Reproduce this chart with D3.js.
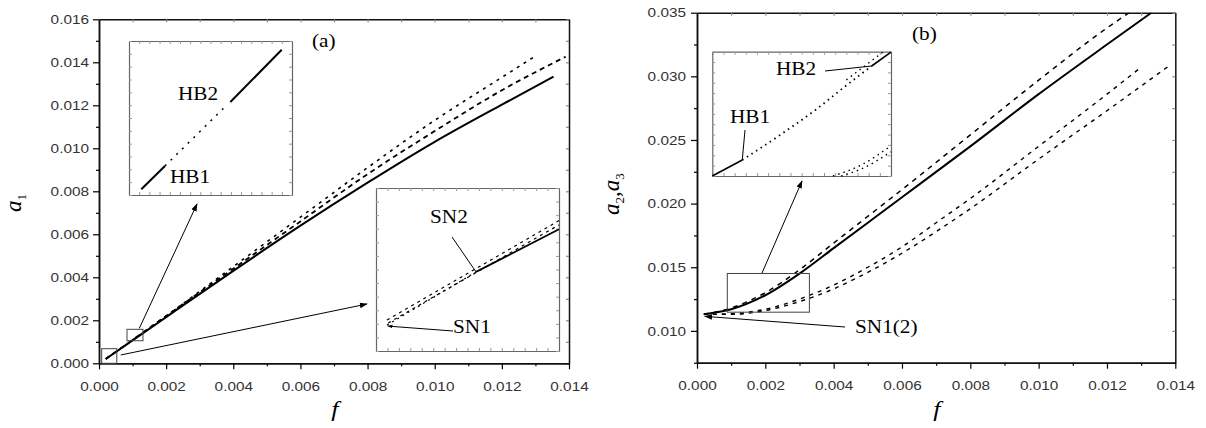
<!DOCTYPE html>
<html>
<head>
<meta charset="utf-8">
<script src="https://cdn.jsdelivr.net/npm/d3@7"></script>
<style>
  body { margin: 0; background: #fff; }
  svg { display: block; }
  .tick text { font-family: "Liberation Sans", Arial, sans-serif; font-size: 13px; fill: #333; }
</style>
</head>
<body>
<div class="graphContainer"></div>
<script>
// ---- panel (a): a1 vs f ----
var a1Stable = [[0.0002, 0.0002], [0.002, 0.00215], [0.004, 0.0043], [0.006, 0.0064], [0.008, 0.0084], [0.010, 0.0103], [0.012, 0.01203], [0.01354, 0.01333]];
var a1DashMid = [[0.0002, 0.0002], [0.002, 0.0022], [0.004, 0.0044], [0.006, 0.0066], [0.008, 0.0088], [0.010, 0.0108], [0.012, 0.0127], [0.0139, 0.01426]];
var a1DashTop = [[0.0002, 0.0002], [0.002, 0.0022], [0.004, 0.0045], [0.006, 0.0068], [0.008, 0.0091], [0.010, 0.0113], [0.012, 0.0133], [0.0130, 0.01429]];

// inset HB (zoom of a1 near f=0.001)
var hbLow = [[0.00087, 0.00107], [0.000939, 0.00115]];
var hbMid = [[0.000939, 0.00115], [0.00112, 0.00136]];
var hbHigh = [[0.00113, 0.00137], [0.00128, 0.00155]];

// inset SN (zoom of a1 near origin)
var snDashTop = [[0.000107, 0.000129], [0.00053, 0.000544]];
var snDashMid = [[0.00011, 0.000117], [0.00053, 0.000526]];
var snUnstable = [[0.000107, 0.000108], [0.000326, 0.00033]];
var snStable = [[0.000326, 0.00033], [0.00053, 0.000508]];

// ---- panel (b): a2, a3 vs f ----
var a2Stable = [[0.0002, 0.0113], [0.001, 0.0117], [0.002, 0.0128], [0.003, 0.0145], [0.004, 0.0165], [0.005, 0.0185], [0.006, 0.0205], [0.008, 0.0245], [0.010, 0.0286], [0.012, 0.0325], [0.0133, 0.035]];
var a2Dash = [[0.0002, 0.0113], [0.001, 0.0118], [0.002, 0.013], [0.003, 0.0148], [0.004, 0.0169], [0.005, 0.019], [0.006, 0.0211], [0.008, 0.0254], [0.010, 0.0297], [0.012, 0.0338], [0.01265, 0.035]];
var a3DashA = [[0.0002, 0.0113], [0.001, 0.01135], [0.002, 0.0117], [0.003, 0.0125], [0.004, 0.0136], [0.005, 0.015], [0.006, 0.0166], [0.007, 0.0185], [0.008, 0.0204], [0.010, 0.0245], [0.012, 0.0286], [0.01292, 0.03055]];
var a3DashB = [[0.0002, 0.0113], [0.001, 0.0113], [0.002, 0.0116], [0.003, 0.0123], [0.004, 0.0133], [0.005, 0.0146], [0.006, 0.0161], [0.007, 0.0178], [0.008, 0.0196], [0.010, 0.0235], [0.012, 0.0273], [0.01385, 0.03089]];

// inset of panel (b)
var ibLow = [[0.000887, 0.01147], [0.00129, 0.01186]];
var ibDotted = [[0.00129, 0.01186], [0.00182, 0.0125], [0.00227, 0.01308], [0.0027, 0.0137], [0.00303, 0.01416]];
var ibHigh = [[0.00303, 0.01416], [0.00329, 0.0145]];
var ibDotted2 = [[0.00269, 0.01382], [0.00319, 0.01451]];
var ibLowerA = [[0.00251, 0.01147], [0.0029, 0.01175], [0.00329, 0.01221]];
var ibLowerB = [[0.00262, 0.01147], [0.0029, 0.01165], [0.00329, 0.01206]];

var fTicks = d3.range(0, 0.01401, 0.002);
var fMinor = d3.range(0.001, 0.014, 0.002);
var a1Ticks = d3.range(0, 0.01601, 0.002);
var a1Minor = d3.range(0.001, 0.016, 0.002);
var a2Ticks = d3.range(0.010, 0.03501, 0.005);
var a2Minor = d3.range(0.0075, 0.035, 0.005);

var svg = d3.select(".graphContainer").append("svg").attr("width", 1206).attr("height", 428);

var defs = svg.append("defs");
defs.append("marker").attr("id", "arrow").attr("viewBox", "0 0 10 10").attr("refX", 9).attr("refY", 5)
  .attr("markerWidth", 8).attr("markerHeight", 8).attr("markerUnits", "userSpaceOnUse").attr("orient", "auto")
  .append("path").attr("d", "M0,1.5 L10,5 L0,8.5 Z").attr("fill", "#000");
defs.append("marker").attr("id", "arrowSmall").attr("viewBox", "0 0 10 10").attr("refX", 9).attr("refY", 5)
  .attr("markerWidth", 5).attr("markerHeight", 5).attr("markerUnits", "userSpaceOnUse").attr("orient", "auto")
  .append("path").attr("d", "M0,1.5 L10,5 L0,8.5 Z").attr("fill", "#000");

function drawFrame(x, y, major, minor, yMajor, yMinor, yFmt) {
  var g = svg.append("g");
  var all = major.concat(minor).sort(d3.ascending);
  var yAll = yMajor.concat(yMinor).sort(d3.ascending);
  // top and right: small inward ticks
  g.append("g").attr("transform", "translate(0," + y.range()[1] + ")")
    .call(d3.axisTop(x).tickValues(all).tickSize(-3).tickSizeOuter(0).tickFormat(""))
    .call(a => a.selectAll(".tick line").attr("stroke", "#888"));
  g.append("g").attr("transform", "translate(" + x.range()[1] + ",0)")
    .call(d3.axisRight(y).tickValues(yAll).tickSize(-3).tickSizeOuter(0).tickFormat(""))
    .call(a => a.selectAll(".tick line").attr("stroke", "#888"));
  // bottom
  g.append("g").attr("transform", "translate(0," + y.range()[0] + ")")
    .call(d3.axisBottom(x).tickValues(minor).tickSize(3).tickSizeOuter(0).tickFormat(""));
  g.append("g").attr("transform", "translate(0," + y.range()[0] + ")")
    .call(d3.axisBottom(x).tickValues(major).tickSize(6).tickSizeOuter(0).tickPadding(12).tickFormat(d3.format(".3f")));
  // left
  g.append("g").attr("transform", "translate(" + x.range()[0] + ",0)")
    .call(d3.axisLeft(y).tickValues(yMinor).tickSize(3).tickSizeOuter(0).tickFormat(""));
  g.append("g").attr("transform", "translate(" + x.range()[0] + ",0)")
    .call(d3.axisLeft(y).tickValues(yMajor).tickSize(6).tickSizeOuter(0).tickPadding(yFmt).tickFormat(d3.format(".3f")));
  g.selectAll(".domain").attr("stroke-width", 1.5).attr("stroke", "#111");
  g.selectAll(".tick line").attr("stroke-width", 1.2);
}

function drawLine(x, y, data, width, dash) {
  var line = d3.line().x(d => x(d[0])).y(d => y(d[1])).curve(d3.curveMonotoneX);
  svg.append("path").datum(data).attr("d", line).attr("fill", "none").attr("stroke", "#000")
    .attr("stroke-width", width).attr("stroke-dasharray", dash || null);
}

function drawInset(x, y) {
  var g = svg.append("g");
  var xt = d3.range(0, 17).map(i => x.domain()[0] + i * (x.domain()[1] - x.domain()[0]) / 16);
  var yt = d3.range(0, 13).map(i => y.domain()[0] + i * (y.domain()[1] - y.domain()[0]) / 12);
  g.append("g").attr("transform", "translate(0," + y.range()[0] + ")").call(d3.axisTop(x).tickValues(xt).tickSize(3).tickSizeOuter(0).tickFormat(""));
  g.append("g").attr("transform", "translate(0," + y.range()[1] + ")").call(d3.axisBottom(x).tickValues(xt).tickSize(3).tickSizeOuter(0).tickFormat(""));
  g.append("g").attr("transform", "translate(" + x.range()[0] + ",0)").call(d3.axisRight(y).tickValues(yt).tickSize(3).tickSizeOuter(0).tickFormat(""));
  g.append("g").attr("transform", "translate(" + x.range()[1] + ",0)").call(d3.axisLeft(y).tickValues(yt).tickSize(3).tickSizeOuter(0).tickFormat(""));
  g.selectAll(".domain").attr("stroke", "#666").attr("stroke-width", 1.2);
  g.selectAll(".tick line").attr("stroke", "#999");
}

function label(x, y, txt, size, anchor) {
  return svg.append("text").attr("x", x).attr("y", y).attr("class", "lab")
    .attr("text-anchor", anchor || "start")
    .style("font-family", "'Liberation Serif', 'Times New Roman', serif").style("font-size", size + "px").text(txt);
}

function arrow(x1, y1, x2, y2, marker) {
  svg.append("line").attr("x1", x1).attr("y1", y1).attr("x2", x2).attr("y2", y2)
    .attr("stroke", "#000").attr("stroke-width", 1).attr("marker-end", marker ? "url(#" + marker + ")" : null);
}

function box(x, y, x0, x1, y0, y1) {
  svg.append("rect").attr("x", x(x0)).attr("y", y(y1)).attr("width", x(x1) - x(x0)).attr("height", y(y0) - y(y1))
    .attr("fill", "none").attr("stroke", "#444").attr("stroke-width", 1);
}

// ================= panel (a) =================
var xA = d3.scaleLinear().domain([0, 0.014]).range([99, 569]);
var yA = d3.scaleLinear().domain([0, 0.016]).range([363.3, 19.3]);
drawFrame(xA, yA, fTicks, fMinor, a1Ticks, a1Minor, 4);

drawLine(xA, yA, a1DashTop, 1.6, "3,5");
drawLine(xA, yA, a1DashMid, 1.8, "5,4");
drawLine(xA, yA, a1Stable, 2);

// zoom boxes on the main plot
box(xA, yA, 0.000834, 0.00131, 0.00105, 0.00158);
box(xA, yA, 0.00008, 0.00053, 0.0, 0.00068);

// HB inset
var xH = d3.scaleLinear().domain([0.000834, 0.00131]).range([129, 292]);
var yH = d3.scaleLinear().domain([0.00105, 0.00158]).range([195, 41]);
drawInset(xH, yH);
drawLine(xH, yH, hbLow, 2);
drawLine(xH, yH, hbMid, 1.5, "2,6");
drawLine(xH, yH, hbHigh, 2);
label(178, 100, "HB2", 18);
label(170, 183, "HB1", 18);

// SN inset
var xS = d3.scaleLinear().domain([0.00008, 0.00053]).range([376, 559]);
var yS = d3.scaleLinear().domain([0, 0.00068]).range([351, 188]);
drawInset(xS, yS);
drawLine(xS, yS, snDashTop, 1.2, "3,4");
drawLine(xS, yS, snDashMid, 1.2, "3,4");
drawLine(xS, yS, snUnstable, 1.2, "2,4");
drawLine(xS, yS, snStable, 1.8);
label(430, 223, "SN2", 18);
label(453, 333, "SN1", 18);
arrow(452, 237, xS(snStable[0][0]), yS(snStable[0][1]));
arrow(453, 331, xS(snUnstable[0][0]) + 1, yS(snUnstable[0][1]) + 1, "arrowSmall");

// arrows from zoom boxes to insets
arrow(xA(0.00132) - 4, yA(0.00158) - 1, 197, 204, "arrow");
arrow(xA(0.00053) + 4, yA(0.00034) - 1, 367, 304, "arrow");

label(312, 47, "(a)", 18);
label(335, 416, "f", 22, "middle").style("font-style", "italic");
var yl = svg.append("text").attr("class", "ylab").attr("transform", "translate(21,203) rotate(-90)")
  .attr("text-anchor", "middle").style("font-family", "'Liberation Serif', serif").style("font-size", "23px");
yl.append("tspan").style("font-style", "italic").text("a");
yl.append("tspan").attr("dy", 5).style("font-size", "13px").text("1");

// ================= panel (b) =================
var xB = d3.scaleLinear().domain([0, 0.014]).range([697, 1175.3]);
var yB = d3.scaleLinear().domain([0.0075, 0.035]).range([362.7, 12.7]);
drawFrame(xB, yB, fTicks, fMinor, a2Ticks, a2Minor, 5);

svg.append("clipPath").attr("id", "clipB").append("rect").attr("x", 697).attr("y", 12.7).attr("width", 478.3).attr("height", 350);
var gb = svg.append("g").attr("clip-path", "url(#clipB)");
function drawLineB(data, width, dash) {
  var line = d3.line().x(d => xB(d[0])).y(d => yB(d[1])).curve(d3.curveMonotoneX);
  gb.append("path").datum(data).attr("d", line).attr("fill", "none").attr("stroke", "#000")
    .attr("stroke-width", width).attr("stroke-dasharray", dash || null);
}
drawLineB(a2Dash, 1.5, "5,5");
drawLineB(a2Stable, 2);
drawLineB(a3DashA, 1.4, "4,5");
drawLineB(a3DashB, 1.4, "4,5");

box(xB, yB, 0.000887, 0.00329, 0.01147, 0.01451);
arrow(762, 273, 802, 181, "arrow");
arrow(845, 327, xB(a2Stable[0][0]) + 1, yB(a2Stable[0][1]) + 2, "arrow");
label(855, 333, "SN1(2)", 18);

var xI = d3.scaleLinear().domain([0.000887, 0.00329]).range([712.3, 891]);
var yI = d3.scaleLinear().domain([0.01147, 0.01451]).range([176, 51.7]);
drawInset(xI, yI);
drawLine(xI, yI, ibLow, 1.6);
drawLine(xI, yI, ibDotted, 1.8, "1.5,4");
drawLine(xI, yI, ibDotted2, 1.4, "1.5,4");
drawLine(xI, yI, ibHigh, 1.6);
drawLine(xI, yI, ibLowerA, 1.4, "1.5,4");
drawLine(xI, yI, ibLowerB, 1.4, "1.5,4");
label(776, 75, "HB2", 18);
label(730, 123, "HB1", 18);
arrow(825, 71, xI(ibHigh[0][0]), yI(ibHigh[0][1]));
arrow(745, 130, xI(ibLow[1][0]), yI(ibLow[1][1]));

label(912, 40, "(b)", 18);
label(937, 416, "f", 22, "middle").style("font-style", "italic");
var yl2 = svg.append("text").attr("class", "ylab").attr("transform", "translate(619,194) rotate(-90)")
  .attr("text-anchor", "middle").style("font-family", "'Liberation Serif', serif").style("font-size", "23px");
yl2.append("tspan").style("font-style", "italic").text("a");
yl2.append("tspan").attr("dy", 5).style("font-size", "13px").text("2");
yl2.append("tspan").attr("dy", -5).text(",");
yl2.append("tspan").style("font-style", "italic").text("a");
yl2.append("tspan").attr("dy", 5).style("font-size", "13px").text("3");

// the original figure is slightly stretched horizontally
svg.selectAll(".tick text, text.lab").each(function () {
  var w = this.getComputedTextLength();
  if (w > 0) {
    this.setAttribute("textLength", w * 1.18);
    this.setAttribute("lengthAdjust", "spacingAndGlyphs");
  }
});
</script>
</body>
</html>
